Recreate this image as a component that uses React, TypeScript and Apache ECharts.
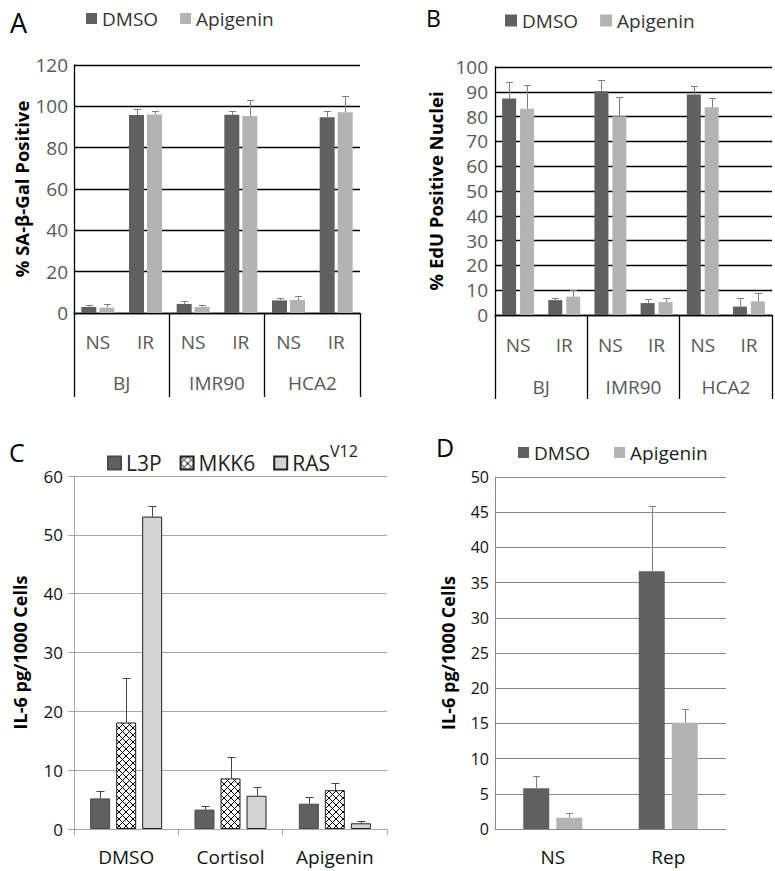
import React, { useEffect, useRef } from 'react';
import * as echarts from 'echarts';

// Panel A
const A_CATS = ['NS', 'IR', 'NS', 'IR', 'NS', 'IR'];
const A_GROUPS = ['BJ', 'IMR90', 'HCA2'];
const A_DMSO = [2.9, 95.8, 4.4, 95.9, 6.1, 94.7];
const A_DMSO_SD = [1.1, 2.7, 1.4, 2.0, 1.2, 3.2];
const A_API = [2.6, 96.1, 2.9, 95.3, 6.3, 97.1];
const A_API_SD = [1.9, 1.8, 0.8, 7.6, 2.1, 7.7];

// Panel B
const B_CATS = ['NS', 'IR', 'NS', 'IR', 'NS', 'IR'];
const B_GROUPS = ['BJ', 'IMR90', 'HCA2'];
const B_DMSO = [87.3, 6.0, 90.2, 4.8, 88.9, 3.4];
const B_DMSO_SD = [6.8, 1.0, 4.6, 1.5, 3.5, 3.6];
const B_API = [83.2, 7.4, 80.1, 5.2, 83.8, 5.5];
const B_API_SD = [9.6, 2.5, 7.7, 1.8, 3.7, 3.2];

// Panel C
const C_CATS = ['DMSO', 'Cortisol', 'Apigenin'];
const C_L3P = [5.2, 3.3, 4.3];
const C_L3P_SD = [1.2, 0.55, 1.1];
const C_MKK6 = [18.1, 8.6, 6.6];
const C_MKK6_SD = [7.6, 3.6, 1.2];
const C_RAS = [53.1, 5.65, 0.97];
const C_RAS_SD = [1.8, 1.45, 0.33];

// Panel D
const D_CATS = ['NS', 'Rep'];
const D_DMSO = [5.8, 36.6];
const D_DMSO_SD = [1.7, 9.3];
const D_API = [1.6, 15.1];
const D_API_SD = [0.7, 1.9];

const DARK = '#606060';
const LIGHT = '#b3b3b3';
const FONT = '"Open Sans", "DejaVu Sans", sans-serif';

function makeCross(): HTMLCanvasElement {
  const c = document.createElement('canvas');
  c.width = 7;
  c.height = 7;
  const ctx = c.getContext('2d')!;
  ctx.fillStyle = '#ffffff';
  ctx.fillRect(0, 0, 7, 7);
  ctx.strokeStyle = '#000000';
  ctx.lineWidth = 1;
  ctx.beginPath();
  ctx.moveTo(0, 0);
  ctx.lineTo(7, 7);
  ctx.moveTo(7, 0);
  ctx.lineTo(0, 7);
  ctx.stroke();
  return c;
}

function errorSeries(id: string, xi: number, yi: number, vals: number[], sds: number[], offset: number, color: string, cap: number) {
  return {
    type: 'custom',
    name: id,
    xAxisIndex: xi,
    yAxisIndex: yi,
    z: 10,
    silent: true,
    data: vals.map((v, i) => [i, v, v + sds[i]]),
    encode: { x: 0, y: 1 },
    renderItem: (params: any, api: any) => {
      const i = api.value(0);
      const v = api.value(1);
      const t = api.value(2);
      const p0 = api.coord([i, v]);
      const p1 = api.coord([i, t]);
      const x = Math.round(p0[0] + offset) + 0.5;
      const yt = Math.round(p1[1]) + 0.5;
      return {
        type: 'group',
        children: [
          { type: 'line', shape: { x1: x, y1: p0[1], x2: x, y2: yt }, style: { stroke: color, lineWidth: 1 } },
          { type: 'line', shape: { x1: x - cap, y1: yt, x2: x + cap, y2: yt }, style: { stroke: color, lineWidth: 1 } },
        ],
      };
    },
  };
}

function offsets(n: number, w: number, gapRatio: number): number[] {
  const g = w * gapRatio;
  const out: number[] = [];
  for (let i = 0; i < n; i++) out.push((i - (n - 1) / 2) * (w + g));
  return out;
}

export default function App() {
  const ref = useRef<HTMLDivElement>(null);
  useEffect(() => {
    if (!ref.current) return;
    const chart = echarts.init(ref.current, undefined, { renderer: 'svg' });
    const cross = makeCross();
    const crossFill: any = { image: cross, repeat: 'repeat' };

    const oA = offsets(2, 15, 0.2);
    const oB = offsets(2, 14, 0.28);
    const oC = offsets(3, 20, 0.3);
    const oD = offsets(2, 26, 0.27);

    const gridLabel = { color: '#595959', fontSize: 19, fontFamily: FONT };
    const nameStyle = { fontSize: 18.5, fontWeight: 'bold', color: '#000', fontFamily: FONT };
    const option: any = {
      animation: false,
      textStyle: { fontFamily: FONT },
      graphic: [
        { type: 'text', x: 10, y: 22, style: { text: 'A', font: `27px ${FONT}`, fill: '#000', align: 'left', verticalAlign: 'middle' } },
        { type: 'text', x: 426, y: 18, style: { text: 'B', font: `23px ${FONT}`, fill: '#000', align: 'left', verticalAlign: 'middle' } },
        { type: 'text', x: 9, y: 452, style: { text: 'C', font: `25px ${FONT}`, fill: '#000', align: 'left', verticalAlign: 'middle' } },
        { type: 'text', x: 436, y: 447, style: { text: 'D', font: `25px ${FONT}`, fill: '#000', align: 'left', verticalAlign: 'middle' } },
      ],
      legend: [
        {
          left: 86, top: 9, padding: 0, icon: 'rect', itemWidth: 11, itemHeight: 11, itemGap: 22,
          data: ['DMSO', 'Apigenin'], textStyle: { fontSize: 19, color: '#333', fontFamily: FONT }, selectedMode: false,
        },
        {
          left: 505, top: 11, padding: 0, icon: 'rect', itemWidth: 12, itemHeight: 12, itemGap: 22,
          data: ['DMSO', 'Apigenin'], textStyle: { fontSize: 19, color: '#333', fontFamily: FONT }, selectedMode: false,
        },
        {
          left: 107, top: 443, padding: 0, icon: 'rect', itemWidth: 13, itemHeight: 13, itemGap: 18,
          data: ['L3P', 'MKK6', 'RAS'], selectedMode: false,
          formatter: (name: string) => (name === 'RAS' ? 'RAS{sup|V12}' : name),
          textStyle: {
            fontSize: 21, color: '#222', fontFamily: FONT,
            rich: { sup: { fontSize: 16, color: '#222', fontFamily: FONT, verticalAlign: 'top', padding: [0, 0, 24, 0] } },
          },
        },
        {
          left: 518, top: 443, padding: 0, icon: 'rect', itemWidth: 11, itemHeight: 11, itemGap: 24,
          data: ['DMSO', 'Apigenin'], textStyle: { fontSize: 19, color: '#222', fontFamily: FONT }, selectedMode: false,
        },
      ],
      grid: [
        { left: 74, top: 65, width: 286, height: 248, containLabel: false },
        { left: 495, top: 67, width: 277, height: 248, containLabel: false },
        { left: 74, top: 476, width: 313, height: 353, containLabel: false },
        { left: 495, top: 477, width: 231, height: 352, containLabel: false },
      ],
      xAxis: [
        {
          gridIndex: 0, type: 'category', data: A_CATS, position: 'bottom',
          axisLine: { lineStyle: { color: '#000', width: 1.3 } }, axisTick: { show: false },
          axisLabel: { ...gridLabel, margin: 19 }, splitLine: { show: false },
        },
        {
          gridIndex: 0, type: 'category', data: A_GROUPS, position: 'bottom',
          axisLine: { show: false }, axisTick: { show: true, length: 84, lineStyle: { color: '#000', width: 1.3 } },
          axisLabel: { ...gridLabel, margin: 60 }, splitLine: { show: false },
        },
        {
          gridIndex: 1, type: 'category', data: B_CATS, position: 'bottom',
          axisLine: { lineStyle: { color: '#000', width: 1.3 } }, axisTick: { show: false },
          axisLabel: { ...gridLabel, margin: 20 }, splitLine: { show: false },
        },
        {
          gridIndex: 1, type: 'category', data: B_GROUPS, position: 'bottom',
          axisLine: { show: false }, axisTick: { show: true, length: 84, lineStyle: { color: '#000', width: 1.3 } },
          axisLabel: { ...gridLabel, margin: 62 }, splitLine: { show: false },
        },
        {
          gridIndex: 2, type: 'category', data: C_CATS, position: 'bottom',
          axisLine: { lineStyle: { color: '#a6a6a6' } }, axisTick: { show: true, length: 6, lineStyle: { color: '#a6a6a6' } },
          axisLabel: { color: '#111', fontSize: 19, fontFamily: FONT, margin: 18 },
        },
        {
          gridIndex: 3, type: 'category', data: D_CATS, position: 'bottom',
          axisLine: { lineStyle: { color: '#888' } }, axisTick: { show: false },
          axisLabel: { color: '#111', fontSize: 19, fontFamily: FONT, margin: 18 },
        },
      ],
      yAxis: [
        {
          gridIndex: 0, type: 'value', min: 0, max: 120, interval: 20,
          name: '% SA-β-Gal Positive', nameLocation: 'middle', nameGap: 43, nameRotate: 90,
          nameTextStyle: nameStyle,
          axisLine: { show: true, lineStyle: { color: '#000', width: 1.3 } }, axisTick: { show: false },
          axisLabel: { ...gridLabel, margin: 6 }, splitLine: { lineStyle: { color: '#000', width: 1.3 } },
        },
        {
          gridIndex: 1, type: 'value', min: 0, max: 100, interval: 10,
          name: '% EdU Positive Nuclei', nameLocation: 'middle', nameGap: 50, nameRotate: 90,
          nameTextStyle: nameStyle,
          axisLine: { show: true, lineStyle: { color: '#000', width: 1.3 } }, axisTick: { show: false },
          axisLabel: { ...gridLabel, margin: 7 }, splitLine: { lineStyle: { color: '#000', width: 1.3 } },
        },
        {
          gridIndex: 2, type: 'value', min: 0, max: 60, interval: 10,
          name: 'IL-6 pg/1000 Cells', nameLocation: 'middle', nameGap: 45, nameRotate: 90,
          nameTextStyle: { ...nameStyle, fontSize: 18 },
          axisLine: { show: true, lineStyle: { color: '#a6a6a6' } }, axisTick: { show: true, length: 6, lineStyle: { color: '#a6a6a6' } },
          axisLabel: { color: '#111', fontSize: 17, fontFamily: FONT, margin: 11 }, splitLine: { lineStyle: { color: '#a6a6a6' } },
        },
        {
          gridIndex: 3, type: 'value', min: 0, max: 50, interval: 5,
          name: 'IL-6 pg/1000 Cells', nameLocation: 'middle', nameGap: 38, nameRotate: 90,
          nameTextStyle: { ...nameStyle, fontSize: 18 },
          axisLine: { show: true, lineStyle: { color: '#888' } }, axisTick: { show: false },
          axisLabel: { color: '#111', fontSize: 16, fontFamily: FONT, margin: 6 }, splitLine: { lineStyle: { color: '#888' } },
        },
      ],
      series: [
        { type: 'bar', name: 'DMSO', xAxisIndex: 0, yAxisIndex: 0, data: A_DMSO, barWidth: 15, barGap: '20%', itemStyle: { color: DARK } },
        { type: 'bar', name: 'Apigenin', xAxisIndex: 0, yAxisIndex: 0, data: A_API, barWidth: 15, barGap: '20%', itemStyle: { color: LIGHT } },
        errorSeries('errA1', 0, 0, A_DMSO, A_DMSO_SD, oA[0], '#808080', 3.5),
        errorSeries('errA2', 0, 0, A_API, A_API_SD, oA[1], '#808080', 3.5),

        { type: 'bar', name: 'DMSO', xAxisIndex: 2, yAxisIndex: 1, data: B_DMSO, barWidth: 14, barGap: '28%', itemStyle: { color: DARK } },
        { type: 'bar', name: 'Apigenin', xAxisIndex: 2, yAxisIndex: 1, data: B_API, barWidth: 14, barGap: '28%', itemStyle: { color: LIGHT } },
        errorSeries('errB1', 2, 1, B_DMSO, B_DMSO_SD, oB[0], '#808080', 3.5),
        errorSeries('errB2', 2, 1, B_API, B_API_SD, oB[1], '#808080', 3.5),

        { type: 'bar', name: 'L3P', xAxisIndex: 4, yAxisIndex: 2, data: C_L3P, barWidth: 20, barGap: '30%', itemStyle: { color: DARK, borderColor: '#4a4a4a', borderWidth: 1 } },
        { type: 'bar', name: 'MKK6', xAxisIndex: 4, yAxisIndex: 2, data: C_MKK6, barWidth: 20, barGap: '30%', itemStyle: { color: crossFill, borderColor: '#222', borderWidth: 1 } },
        { type: 'bar', name: 'RAS', xAxisIndex: 4, yAxisIndex: 2, data: C_RAS, barWidth: 20, barGap: '30%', itemStyle: { color: '#d4d4d4', borderColor: '#222', borderWidth: 1 } },
        errorSeries('errC1', 4, 2, C_L3P, C_L3P_SD, oC[0], '#444', 4),
        errorSeries('errC2', 4, 2, C_MKK6, C_MKK6_SD, oC[1], '#444', 4),
        errorSeries('errC3', 4, 2, C_RAS, C_RAS_SD, oC[2], '#444', 4),

        { type: 'bar', name: 'DMSO', xAxisIndex: 5, yAxisIndex: 3, data: D_DMSO, barWidth: 26, barGap: '27%', itemStyle: { color: DARK } },
        { type: 'bar', name: 'Apigenin', xAxisIndex: 5, yAxisIndex: 3, data: D_API, barWidth: 26, barGap: '27%', itemStyle: { color: LIGHT } },
        errorSeries('errD1', 5, 3, D_DMSO, D_DMSO_SD, oD[0], '#808080', 3.5),
        errorSeries('errD2', 5, 3, D_API, D_API_SD, oD[1], '#808080', 3.5),
      ],
    };
    chart.setOption(option);
    return () => chart.dispose();
  }, []);
  return <div ref={ref} style={{ position: 'absolute', left: 0, top: 0, width: 775, height: 871, background: '#fff' }} />;
}
